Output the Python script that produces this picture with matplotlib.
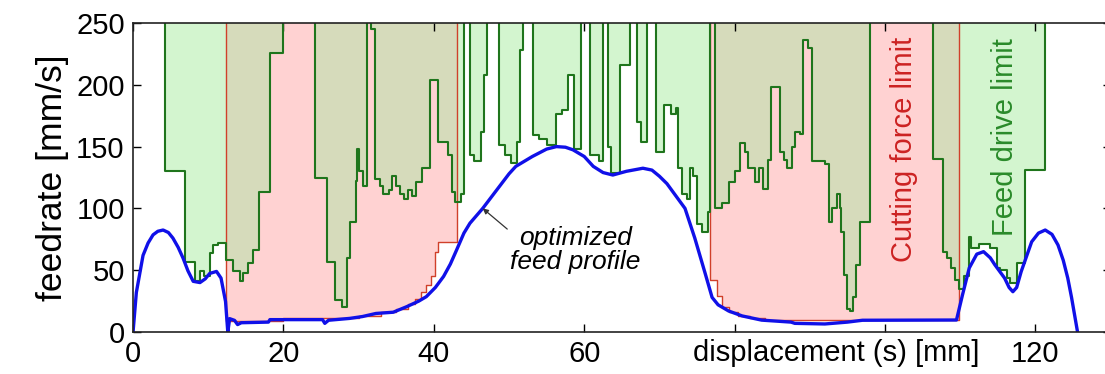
import matplotlib
matplotlib.use('Agg')
import matplotlib.pyplot as plt
import numpy as np

plt.rcParams['font.family'] = ['Liberation Sans', 'DejaVu Sans']

OFF = 300  # limit above the plotted range

# optimized feed profile (blue)
feed_x = [0.0, 0.44, 1.33, 2.0, 2.66, 3.3, 4.0, 4.7, 5.3, 6.0, 6.65, 7.3, 8.0, 8.9, 9.6, 10.2,
          11.1, 11.7, 12.3, 12.6,
          12.85, 13.5, 13.9, 14.4, 18.0, 18.2, 25.2, 25.5, 26.0, 28.8, 30.5, 32.3, 34.6,
          36.4, 38.0, 39.0, 40.2, 41.3, 42.2, 43.0, 44.0, 44.8, 46.5, 48.7, 50.0, 50.9,
          53.1, 55.0, 56.3, 57.5, 58.5, 60.0, 61.2, 62.5, 63.8, 65.6, 67.8, 69.0, 70.0,
          71.0, 72.2, 73.4, 74.7, 76.1, 77.0, 77.8, 79.2, 81.0, 83.6, 87.5, 88.0, 92.0,
          95.0, 97.0, 109.5, 110.3, 111.2, 112.2, 113.1, 114.0, 114.6, 115.9, 116.5,
          117.0, 117.5, 118.1, 119.5, 120.4, 121.3, 122.2, 123.0, 123.7, 124.3, 124.8,
          125.2, 125.6]
feed_y = [0, 32, 62, 72, 78.6, 81.5, 82.5, 80.5, 76, 68.5, 59.8, 49.5, 41, 40, 43, 47.4,
          49, 43.6, 24.7, 0,
          10.8, 9.4, 6, 7.5, 8, 10, 10, 7, 9.5, 11, 12.5, 15, 16,
          20.5, 25, 28.6, 36, 45, 55, 66, 80, 88, 100, 117.6, 128, 134,
          142, 148, 150, 149.5, 147.4, 142, 134, 129, 127, 130, 132.5, 131, 126,
          120, 110, 100, 76, 47, 28, 22, 17, 13, 9.6, 8, 7, 6.5,
          8, 9.5, 9.7, 30, 51.8, 63, 65, 60, 54.4, 43.6, 36,
          32.6, 36, 48.8, 73, 80, 82.5, 79, 70.4, 58, 43.6, 28,
          14, 0]

# feed drive limit (green), stepwise
drive_x = [0, 4.3, 6.9, 8.2, 8.9, 9.5, 10.2, 10.6, 11.3, 12.4, 13.3, 14.2, 14.6, 15.3,
           16.0, 16.8, 18.2, 20.0, 24.2, 25.8, 26.9, 27.8, 28.4, 28.8, 29.6, 29.8, 30.0,
           30.6, 31.1, 31.6, 32.2, 32.9, 33.3, 34.0, 34.5, 35.0, 35.5, 36.0, 36.6, 37.1,
           37.6, 38.4, 39.5, 40.6, 41.9, 42.4, 42.8, 43.1, 43.6, 44.0,
           44.8, 45.4, 46.3, 46.7, 47.1,
           48.6, 49.4, 50.3, 51.0, 51.4, 51.9,
           53.2, 54.0, 55.0, 56.2, 57.0, 57.8, 58.6, 59.6,
           60.8, 61.9, 62.5,
           63.2, 63.5, 64.8, 66.1,
           67.0, 67.6, 68.3,
           69.6, 70.6, 71.5, 72.2, 72.5, 73.0, 73.6, 74.1, 74.5, 75.0, 75.6, 76.4, 76.7,
           77.4, 78.3, 79.2, 80.1, 80.7, 81.4, 81.8, 82.7, 83.2, 83.8, 84.5, 84.9, 86.0,
           86.5, 86.9, 87.6, 88.0, 88.7, 89.1, 89.8, 90.3, 92.0, 92.5, 92.9, 93.6, 94.0,
           94.2, 94.5, 94.9, 95.3, 95.8, 96.2, 96.7, 98.0,
           106.4, 107.7, 108.3, 108.8, 109.3, 109.8, 110.5, 111.1, 111.4, 112.5, 114.0,
           114.9, 115.3, 116.2, 116.6, 117.5, 118.6, 121.3, 130]
drive_y = [OFF, 130, 57, 41, 49, 45, 64, 70, 72, 58, 49, 41, 48, 56,
           66, 113, 226, OFF, 125, 57, 26, 20.5, 60, 89, 122, 148, 130,
           118, OFF, 245, 124, 118, 112, 115, 126, 118, 112, 108, 115, 110,
           121, 133, 204, 154, 143, 113, 105, 105, 112, OFF,
           143, 138, 162, 208, OFF,
           151, 143, 137, 154, 228, OFF,
           159, 156, 151, 176, 180, 208, 148, OFF,
           143, 138, OFF,
           150, 129, 216, OFF,
           170, 154, OFF,
           146, 184, 176, 181, 133, 112, 108, 133, 126, 87, 81, 97, OFF,
           100, 104, 121.6, 130, 152.6, 146, 133, 121, 133, 116, 139, 198.5, 146,
           139, 133, 149.6, 162, 160, 236, 230, 138, 136, 89, 100, 112, 100,
           81, 46, 19, 17, 28, 54, 89, OFF,
           140, 65, 60, 52, 42, 35, 45, 77, 68, 71, 68,
           52, 50, 43.6, 40, 55.6, 131, OFF, OFF]

# cutting force limit (red), stepwise
force_x = [0, 12.4, 20.0, 26.0, 30.0, 33.0, 35.0, 36.5, 37.5, 38.3, 39.0, 39.6, 40.2,
           40.6, 43.1, 76.7, 77.7, 78.3, 79.2, 80.5, 82.0, 84.0, 109.8, 130]
force_y = [OFF, 9, 11, 11, 13, 16, 19, 23, 27, 32, 38, 45, 65,
           73, OFF, 42, 29, 20, 16, 13, 11, 10, OFF, OFF]


def step_at(xk, yk, x):
    idx = np.searchsorted(np.asarray(xk), x, side='right') - 1
    return np.asarray(yk, dtype=float)[idx]


# region where both limits are active (olive overlap)
both_x = np.array(sorted(set(drive_x) | set(force_x)))
both_y = np.maximum(step_at(drive_x, drive_y, both_x), step_at(force_x, force_y, both_x))

fig = plt.figure(figsize=(11.05, 3.74), dpi=100)
ax = fig.add_axes([0.1204, 0.1123, 0.8847, 0.8262])

ax.fill_between(force_x, force_y, 250, step='post', color='#ffd2d2', linewidth=0)
ax.fill_between(drive_x, drive_y, 250, step='post', color='#d3f5cf', linewidth=0)
ax.fill_between(both_x, both_y, 250, step='post', color='#d6dbbb', linewidth=0)
ax.step(force_x, force_y, where='post', color='#d0402a', linewidth=1.0)
ax.step(drive_x, drive_y, where='post', color='#1f751c', linewidth=1.5)
ax.plot(feed_x, feed_y, color='#1010e8', linewidth=2.4)

ax.set_xlim(0, 130)
ax.set_ylim(0, 250)
ax.set_xticks([0, 20, 40, 60, 80, 100, 120])
ax.set_xticklabels(['0', '20', '40', '60', '', '', '120'])
ax.set_yticks([0, 50, 100, 150, 200, 250])
ax.tick_params(direction='in', top=True, right=True, length=6, width=1,
               labelsize=21, pad=6)
for s in ax.spines.values():
    s.set_linewidth(1.2)
    s.set_color('#222222')

ax.set_ylabel('feedrate [mm/s]', fontsize=25.5, labelpad=5)
ax.text(93.5, -0.022, 'displacement (s) [mm]', transform=ax.get_xaxis_transform(),
        ha='center', va='top', fontsize=21)

ax.text(102.5, 148, 'Cutting force limit', rotation=90, ha='center', va='center',
        color='#cc2222', fontsize=21)
ax.text(116.0, 158, 'Feed drive limit', rotation=90, ha='center', va='center',
        color='#2a8a2a', fontsize=21)

ax.annotate('optimized\nfeed profile', xy=(46.5, 100), xytext=(58.8, 66),
            ha='center', va='center', fontsize=19, style='italic',
            linespacing=1.0,
            arrowprops=dict(arrowstyle='-|>', color='#333333', lw=0.9,
                            shrinkA=0, shrinkB=0, mutation_scale=8,
                            relpos=(0.02, 0.85)))

fig.savefig('out.png', dpi=100)
